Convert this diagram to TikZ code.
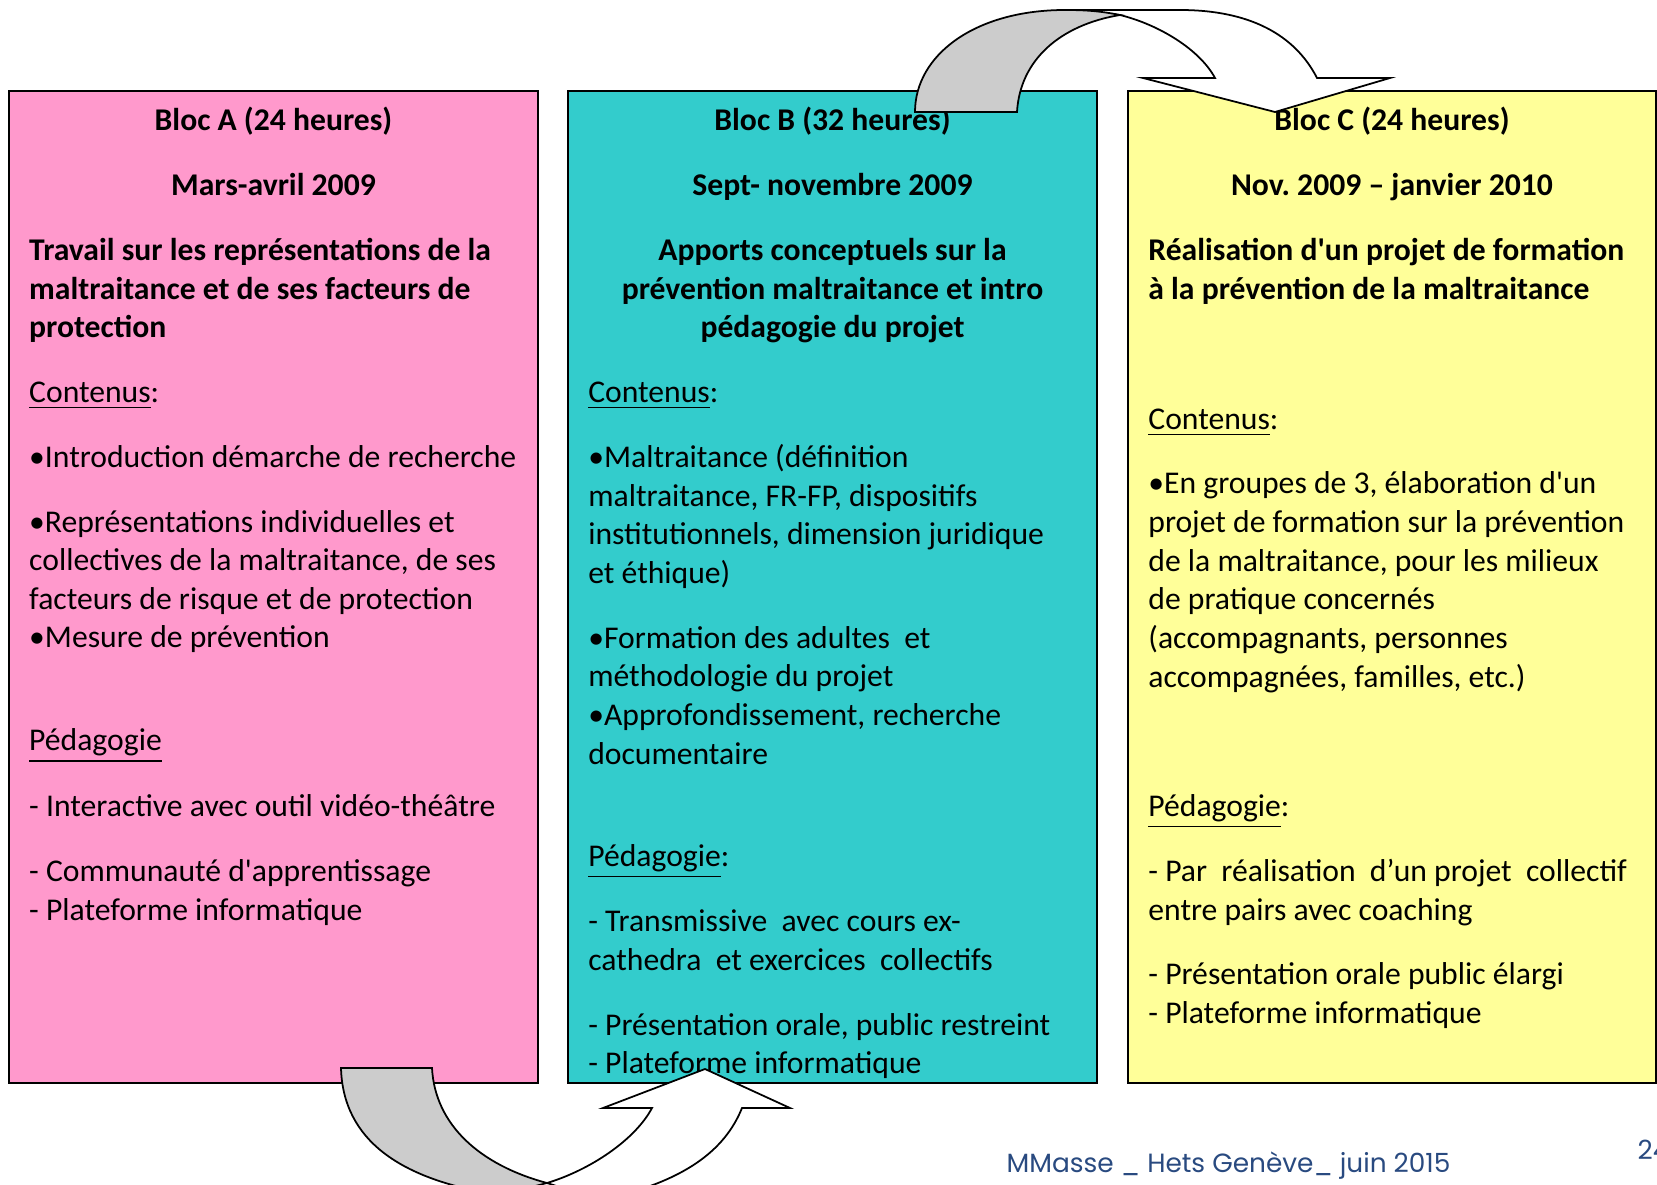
\documentclass[tikz,border=0pt]{standalone}
\usepackage{fontspec}
\usepackage{tikz}
\newfontfamily\calib{Carlito}
\newfontfamily\gothic{Poppins}
\definecolor{blocApink}{RGB}{255,153,204}
\definecolor{blocBteal}{RGB}{51,204,204}
\definecolor{blocCyellow}{RGB}{255,255,153}
\definecolor{arrowgrey}{RGB}{204,204,204}
\definecolor{footblue}{RGB}{41,74,128}
\tikzset{
  bloc/.style={draw=black, line width=0.7pt},
  blocttl/.style={anchor=base, inner sep=0pt, font=\calib\bfseries\fontsize{9pt}{10.98pt}\selectfont},
  para/.style={anchor=base west, align=left, inner sep=0pt, font=\calib\fontsize{9pt}{10.98pt}\selectfont},
  boldpara/.style={para, font=\calib\bfseries\fontsize{9pt}{10.98pt}\selectfont},
  curvedarrow/.style={draw=black, line width=0.5pt, line join=miter},
  foot/.style={anchor=base west, inner sep=0pt, text=footblue, font=\gothic\fontsize{7.5pt}{9pt}\selectfont}
}
\begin{document}
\begin{tikzpicture}[x=0.01cm, y=-0.01cm]
  \useasboundingbox (0,0) rectangle (1657,1185);

  % the three blocks
  \draw[bloc, fill=blocApink] (9,91) rectangle (538,1083);
  \draw[bloc, fill=blocBteal] (568,91) rectangle (1097,1083);
  \draw[bloc, fill=blocCyellow] (1128,91) rectangle (1656,1083);

  % bloc A (multi-line nodes sit on their last line)
  \node[blocttl] (a-ttl) at (273.5,130.5) {Bloc A (24 heures)};
  \node[blocttl] (a-date) at (273.5,196) {Mars-avril 2009};
  \node[boldpara] (a-theme) at (28.5,337.7) {Travail sur les représentations de la\\maltraitance et de ses facteurs de\\protection};
  \node[para] (a-cont) at (28.5,402.1) {\underline{Contenus}:};
  \node[para] (a-c1) at (28.5,467.6) {•Introduction démarche de recherche};
  \node[para] (a-c2) at (28.5,647.9) {•Représentations individuelles et\\collectives de la maltraitance, de ses\\facteurs de risque et de protection\\•Mesure de prévention};
  \node[para] (a-ped) at (28.5,750.8) {\underline{Pédagogie}};
  \node[para] (a-p1) at (28.5,816.3) {- Interactive avec outil vidéo-théâtre};
  \node[para] (a-p2) at (28.5,920.5) {- Communauté d'apprentissage\\- Plateforme informatique};

  % bloc B
  \node[blocttl] (b-ttl) at (832.5,130.5) {Bloc B (32 heures)};
  \node[blocttl] (b-date) at (832.5,196) {Sept- novembre 2009};
  \node[boldpara, anchor=base, align=center] (b-theme) at (832.5,337.7) {Apports conceptuels sur la\\prévention maltraitance et intro\\pédagogie du projet};
  \node[para] (b-cont) at (587.6,402.1) {\underline{Contenus}:};
  \node[para] (b-c1) at (587.6,583.4) {•Maltraitance (définition\\maltraitance, FR-FP, dispositifs\\institutionnels, dimension juridique\\et éthique)};
  \node[para] (b-c2) at (587.6,764.1) {•Formation des adultes\ \ et\\méthodologie du projet\\•Approfondissement, recherche\\documentaire};
  \node[para] (b-ped) at (587.6,866) {\underline{Pédagogie}:};
  \node[para] (b-p1) at (587.6,970.1) {- Transmissive\ \ avec cours ex-\\cathedra\ \ et exercices\ \ collectifs};
  \node[para] (b-p2) at (587.6,1073.7) {- Présentation orale, public restreint\\- Plateforme informatique};

  % bloc C
  \node[blocttl] (c-ttl) at (1392,130.5) {Bloc C (24 heures)};
  \node[blocttl] (c-date) at (1392,196) {Nov.\ 2009 – janvier 2010};
  \node[boldpara] (c-theme) at (1147.7,299.1) {Réalisation d'un projet de formation\\à la prévention de la maltraitance};
  \node[para] (c-cont) at (1147.7,429.5) {\underline{Contenus}:};
  \node[para] (c-c1) at (1147.7,687) {•En groupes de 3, élaboration d'un\\projet de formation sur la prévention\\de la maltraitance, pour les milieux\\de pratique concernés\\(accompagnants, personnes\\accompagnées, familles, etc.)};
  \node[para] (c-ped) at (1147.7,816.3) {\underline{Pédagogie}:};
  \node[para] (c-p1) at (1147.7,920.5) {- Par\ \ réalisation\ \ d’un projet\ \ collectif\\entre pairs avec coaching};
  \node[para] (c-p2) at (1147.7,1023) {- Présentation orale public élargi\\- Plateforme informatique};

  % curved arrow B -> C (over the top)
  \draw[curvedarrow, fill=white] (1120,15) .. controls (1160,25) and (1200,50) .. (1215,78)
    -- (1143,78) -- (1275,112) -- (1390,78) -- (1317,78)
    .. controls (1295,35) and (1250,10) .. (1180,10) -- (1065,10) -- cycle;
  \draw[curvedarrow, fill=arrowgrey] (915,112) -- (1017,112)
    .. controls (1020,60) and (1060,25) .. (1120,15)
    .. controls (1100,11) and (1085,10) .. (1065,10)
    .. controls (975,10) and (915,55) .. (915,112) -- cycle;

  % curved arrow A -> B (underneath)
  \draw[curvedarrow, fill=white] (547,1183) .. controls (590,1170) and (635,1140) .. (652,1108)
    -- (603,1108) -- (705,1069) -- (790,1108) -- (742,1108)
    .. controls (725,1150) and (685,1182) .. (600,1200) -- cycle;
  \draw[curvedarrow, fill=arrowgrey] (341,1068) -- (432,1068)
    .. controls (435,1125) and (480,1165) .. (547,1183)
    -- (500,1195) .. controls (400,1180) and (343,1140) .. (341,1068) -- cycle;

  % footer
  \node[foot] (credit) at (1006,1172) {MMasse \_ Hets Genève\_ juin 2015};
  \node[foot] (pagenum) at (1637,1159) {24};
\end{tikzpicture}
\end{document}
